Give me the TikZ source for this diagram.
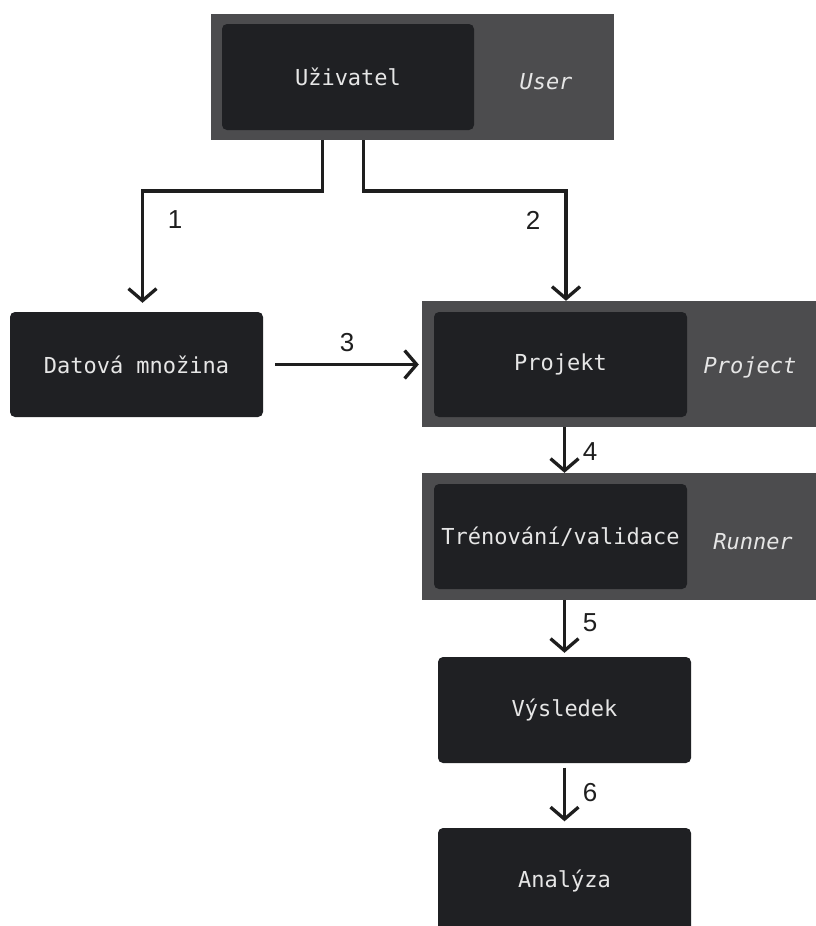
\documentclass[tikz,border=0pt]{standalone}
\usepackage{fontspec}
\setmonofont{DejaVu Sans Mono}
\newfontfamily\numfont{Liberation Sans}
\usetikzlibrary{arrows.meta}
\definecolor{contgray}{HTML}{4C4C4E}
\definecolor{boxdark}{HTML}{1F2023}
\definecolor{txtlight}{HTML}{E6E6E6}
\definecolor{arrowdark}{HTML}{1E1E1E}
\tikzset{
  container/.style={fill=contgray, draw=none, inner sep=0pt, rectangle},
  darkbox/.style={fill=boxdark, draw=none, rounded corners=5pt, inner sep=0pt,
    minimum width=253pt, minimum height=105pt, text=txtlight,
    font=\ttfamily\fontsize{22}{26}\selectfont},
  tag/.style={text=txtlight, font=\ttfamily\itshape\fontsize{22}{26}\selectfont, inner sep=0pt},
  num/.style={text=arrowdark, font=\numfont\fontsize{26}{30}\selectfont, inner sep=0pt},
  arr/.style={draw=arrowdark, line width=3.3pt,
    -{Straight Barb[length=12pt,width=28pt]}}
}
\begin{document}
\begin{tikzpicture}[x=1pt,y=-1pt]
\useasboundingbox (0,0) rectangle (816,926);
% containers
\node[container, minimum width=403pt, minimum height=126pt] (ucont) at (412.5,77) {};
\node[container, minimum width=396pt, minimum height=126pt] (pcont) at (620,364) {};
\node[container, minimum width=396pt, minimum height=127pt] (rcont) at (620,536.5) {};
% boxes
\node[darkbox, minimum width=252pt, minimum height=106pt] (uziv) at (348,77) {Uživatel};
\node[tag] (usertag) at (546,82) {User};
\node[darkbox] (datova) at (136.5,364.5) {Datová množina};
\node[darkbox] (projekt) at (560.5,364.5) {Projekt};
\node[tag] (projtag) at (750,367) {Project};
\node[darkbox] (trenovani) at (560.5,536.5) {Trénování/validace};
\node[tag] (runtag) at (753,542) {Runner};
\node[darkbox, minimum height=106pt] (vys) at (564.5,710) {Výsledek};
\node[darkbox, minimum height=106pt] (ana) at (564.5,881) {Analýza};
% junction coordinates
\coordinate (j1) at (322.7,191);
\coordinate (j2) at (363.3,191);
% connectors
\draw[arr] (ucont.south -| j1) -- (j1) -| ([xshift=6pt,yshift=9pt]datova.north);
\draw[arr] (ucont.south -| j2) -- (j2) -| ([xshift=-54pt]pcont.north);
\draw[arr, shorten <=12pt, shorten >=3pt] (datova.east) -- (datova.east -| pcont.west);
\draw[arr] (pcont.south -| vys) -- (rcont.north -| vys);
\draw[arr] (rcont.south -| vys) -- ([yshift=4pt]vys.north);
\draw[arr, shorten <=4.5pt, shorten >=6.5pt] (vys.south) -- (ana.north);
% labels
\node[num] (n1) at (175,220) {1};
\node[num] (n2) at (533,220) {2};
\node[num] (n3) at (347,343) {3};
\node[num] (n4) at (590,452) {4};
\node[num] (n5) at (590,623) {5};
\node[num] (n6) at (590,793) {6};
\end{tikzpicture}
\end{document}
